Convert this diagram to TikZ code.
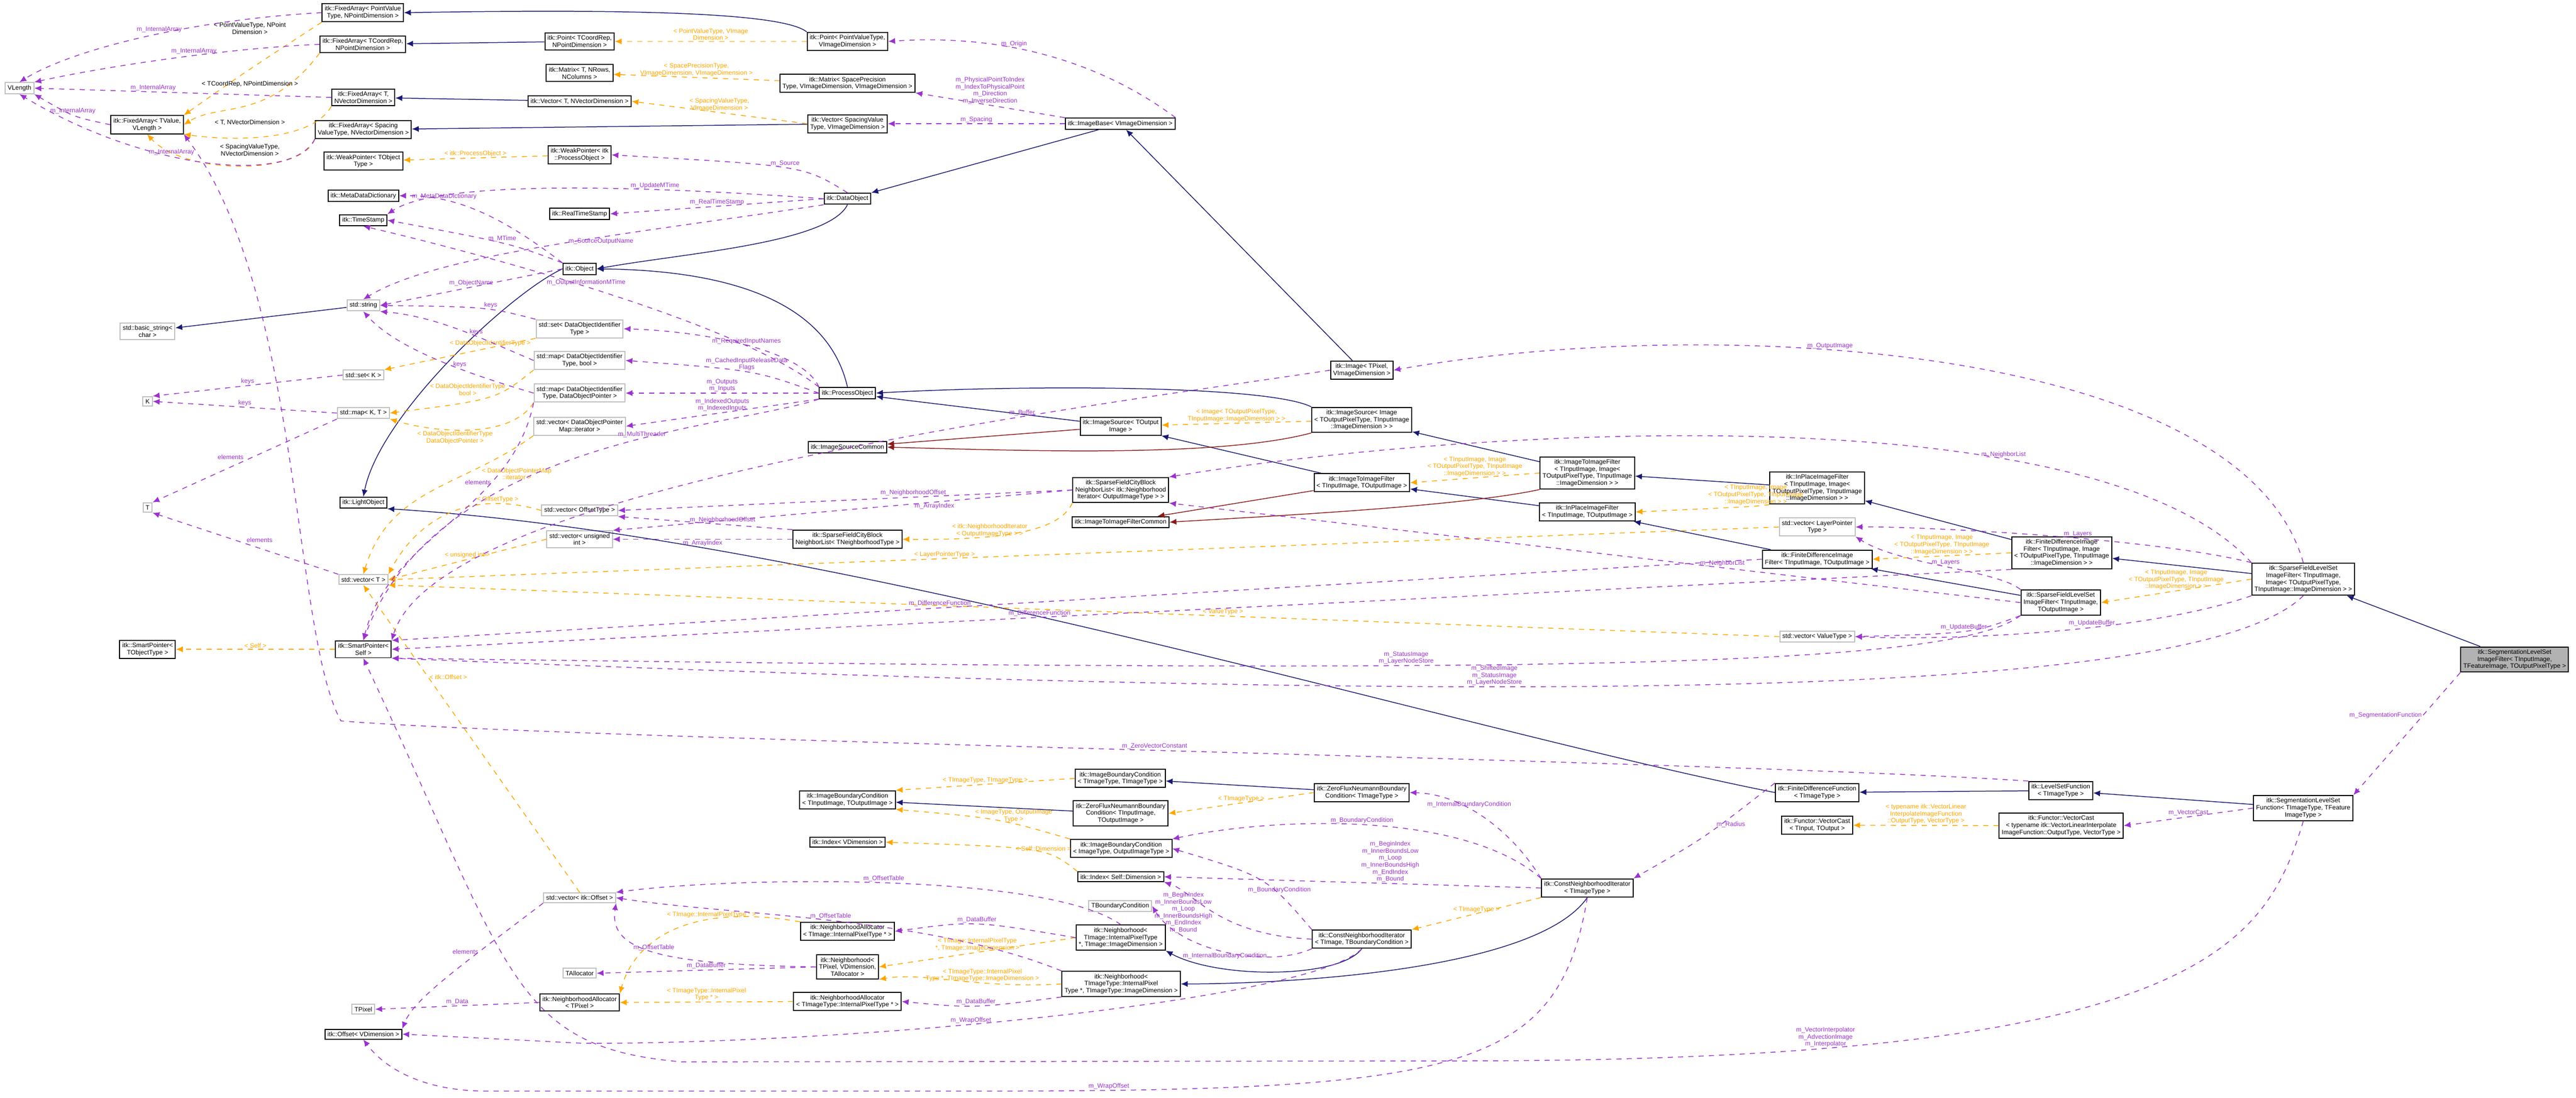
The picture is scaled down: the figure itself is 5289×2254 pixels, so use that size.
\documentclass[tikz,border=0pt]{standalone}
\usepackage{fontspec}
\setmainfont{Liberation Sans}
\usetikzlibrary{arrows.meta}
\begin{document}
\begin{tikzpicture}[x=0.01cm,y=-0.01cm,
 every node/.style={font=\fontsize{3.7}{4.1}\selectfont},
 box/.style={draw,line width=0.6pt,fill=white,align=center,inner sep=1.5pt},
 cls/.style={box,draw=black},
 ext/.style={box,draw=black!25},
 lbl/.style={align=center,inner sep=0.5pt},
 arr/.style={line width=0.45pt,-{Latex[length=4pt,width=3.5pt]}},
 inh/.style={arr,draw=MidnightBlue,color=MidnightBlue},
 pinh/.style={arr,color=Firebrick},
 tmpl/.style={arr,color=Orange,dashed},
 use/.style={arr,color=Purple,dashed}]
\definecolor{MidnightBlue}{HTML}{191970}
\definecolor{Firebrick}{HTML}{8B1A1A}
\definecolor{Orange}{HTML}{FFA500}
\definecolor{Purple}{HTML}{9A32CD}
\useasboundingbox (0,0) rectangle (5289,2254);
% nodes
\node[cls] (faPV) at (745,26) {itk::FixedArray< PointValue\\Type, NPointDimension >};
\node[cls] (faCR) at (745,91) {itk::FixedArray< TCoordRep,\\NPointDimension >};
\node[cls] (ptCR) at (1190,85) {itk::Point< TCoordRep,\\NPointDimension >};
\node[cls] (ptPV) at (1740,85) {itk::Point< PointValueType,\\VImageDimension >};
\node[cls] (mxT) at (1190,150) {itk::Matrix< T, NRows,\\NColumns >};
\node[cls] (mxSP) at (1740,171) {itk::Matrix< SpacePrecision\\Type, VImageDimension, VImageDimension >};
\node[ext] (vlen) at (40,181) {VLength};
\node[cls] (faT) at (746,200) {itk::FixedArray< T,\\NVectorDimension >};
\node[cls] (vecT) at (1190,208) {itk::Vector< T, NVectorDimension >};
\node[cls] (faTV) at (302,256) {itk::FixedArray< TValue,\\VLength >};
\node[cls] (faSV) at (746,266) {itk::FixedArray< Spacing\\ValueType, NVectorDimension >};
\node[cls] (vecSV) at (1740,254) {itk::Vector< SpacingValue\\Type, VImageDimension >};
\node[cls] (imgBase) at (2300,254) {itk::ImageBase< VImageDimension >};
\node[cls] (wpT) at (746,331) {itk::WeakPointer< TObject\\Type >};
\node[cls] (wpPO) at (1190,318) {itk::WeakPointer< itk\\::ProcessObject >};
\node[cls] (mdd) at (746,402) {itk::MetaDataDictionary};
\node[cls] (ts) at (746,452) {itk::TimeStamp};
\node[cls] (rts) at (1190,439) {itk::RealTimeStamp};
\node[cls] (dobj) at (1740,408) {itk::DataObject};
\node[cls] (obj) at (1190,552) {itk::Object};
\node[ext] (str) at (746,627) {std::string};
\node[ext] (bstr) at (303,680) {std::basic\_string<\\char >};
\node[ext] (setDO) at (1190,675) {std::set< DataObjectIdentifier\\Type >};
\node[ext] (mapDOb) at (1190,740) {std::map< DataObjectIdentifier\\Type, bool >};
\node[ext] (setK) at (746,770) {std::set< K >};
\node[cls] (img) at (2796,760) {itk::Image< TPixel,\\VImageDimension >};
\node[cls] (po) at (1740,807) {itk::ProcessObject};
\node[ext] (K) at (303,824) {K};
\node[ext] (mapKT) at (746,848) {std::map< K, T >};
\node[ext] (mapDOP) at (1190,807) {std::map< DataObjectIdentifier\\Type, DataObjectPointer >};
\node[ext] (vecDOI) at (1190,875) {std::vector< DataObjectPointer\\Map::iterator >};
\node[cls] (isc) at (1740,918) {itk::ImageSourceCommon};
\node[cls] (isT) at (2301,875) {itk::ImageSource< TOutput\\Image >};
\node[cls] (isI) at (2796,862) {itk::ImageSource< Image\\< TOutputPixelType, TInputImage\\::ImageDimension > >};
\node[ext] (T) at (303,1042) {T};
\node[cls] (lo) at (746,1032) {itk::LightObject};
\node[ext] (vOff) at (1190,1048) {std::vector< OffsetType >};
\node[cls] (sfNI) at (2301,1006) {itk::SparseFieldCityBlock\\NeighborList< itk::Neighborhood\\Iterator< OutputImageType > >};
\node[cls] (itifc) at (2301,1072) {itk::ImageToImageFilterCommon};
\node[cls] (itiT) at (2796,991) {itk::ImageToImageFilter\\< TInputImage, TOutputImage >};
\node[cls] (itiI) at (3259,971) {itk::ImageToImageFilter\\< TInputImage, Image<\\TOutputPixelType, TInputImage\\::ImageDimension > >};
\node[cls] (ipT) at (3259,1051) {itk::InPlaceImageFilter\\< TInputImage, TOutputImage >};
\node[cls] (ipI) at (3731,1002) {itk::InPlaceImageFilter\\< TInputImage, Image<\\TOutputPixelType, TInputImage\\::ImageDimension > >};
\node[ext] (vUI) at (1190,1107) {std::vector< unsigned\\int >};
\node[cls] (sfTN) at (1740,1107) {itk::SparseFieldCityBlock\\NeighborList< TNeighborhoodType >};
\node[ext] (vT) at (746,1190) {std::vector< T >};
\node[ext] (vLP) at (3731,1082) {std::vector< LayerPointer\\Type >};
\node[cls] (fdT) at (3731,1148) {itk::FiniteDifferenceImage\\Filter< TInputImage, TOutputImage >};
\node[cls] (fdI) at (4233,1135) {itk::FiniteDifferenceImage\\Filter< TInputImage, Image\\< TOutputPixelType, TInputImage\\::ImageDimension > >};
\node[cls] (sflT) at (4231,1237) {itk::SparseFieldLevelSet\\ImageFilter< TInputImage,\\TOutputImage >};
\node[cls] (sflI) at (4729,1189) {itk::SparseFieldLevelSet\\ImageFilter< TInputImage,\\Image< TOutputPixelType,\\TInputImage::ImageDimension > >};
\node[ext] (vVT) at (3731,1307) {std::vector< ValueType >};
\node[cls,fill=black!30] (seg) at (5163,1354) {itk::SegmentationLevelSet\\ImageFilter< TInputImage,\\TFeatureImage, TOutputPixelType >};
\node[cls] (spT) at (303,1333) {itk::SmartPointer<\\TObjectType >};
\node[cls] (spS) at (746,1333) {itk::SmartPointer<\\Self >};
\node[cls] (fdf) at (3731,1627) {itk::FiniteDifferenceFunction\\< TImageType >};
\node[cls] (lsf) at (4231,1623) {itk::LevelSetFunction\\< TImageType >};
\node[cls] (slsf) at (4729,1659) {itk::SegmentationLevelSet\\Function< TImageType, TFeature\\ImageType >};
\node[cls] (vcT) at (3731,1694) {itk::Functor::VectorCast\\< TInput, TOutput >};
\node[cls] (vcI) at (4232,1695) {itk::Functor::VectorCast\\< typename itk::VectorLinearInterpolate\\ImageFunction::OutputType, VectorType >};
\node[cls] (ibcTT) at (2300,1598) {itk::ImageBoundaryCondition\\< TImageType, TImageType >};
\node[cls] (zfT) at (2796,1627) {itk::ZeroFluxNeumannBoundary\\Condition< TImageType >};
\node[cls] (ibcIO) at (1740,1642) {itk::ImageBoundaryCondition\\< TInputImage, TOutputImage >};
\node[cls] (zfIO) at (2301,1670) {itk::ZeroFluxNeumannBoundary\\Condition< TInputImage,\\TOutputImage >};
\node[cls] (idxV) at (1740,1729) {itk::Index< VDimension >};
\node[cls] (ibcIOT) at (2302,1742) {itk::ImageBoundaryCondition\\< ImageType, OutputImageType >};
\node[cls] (idxS) at (2301,1800) {itk::Index< Self::Dimension >};
\node[cls] (cniT) at (3259,1823) {itk::ConstNeighborhoodIterator\\< TImageType >};
\node[ext] (vOf) at (1190,1843) {std::vector< itk::Offset >};
\node[ext] (tbc) at (2300,1860) {TBoundaryCondition};
\node[cls] (naTI) at (1740,1912) {itk::NeighborhoodAllocator\\< TImage::InternalPixelType * >};
\node[cls] (nbTI) at (2301,1925) {itk::Neighborhood<\\TImage::InternalPixelType\\*, TImage::ImageDimension >};
\node[cls] (cniTB) at (2796,1928) {itk::ConstNeighborhoodIterator\\< TImage, TBoundaryCondition >};
\node[cls] (nbP) at (1740,1985) {itk::Neighborhood<\\TPixel, VDimension,\\TAllocator >};
\node[ext] (tall) at (1190,1998) {TAllocator};
\node[cls] (nbTT) at (2302,2020) {itk::Neighborhood<\\TImageType::InternalPixel\\Type *, TImageType::ImageDimension >};
\node[cls] (naTT) at (1740,2056) {itk::NeighborhoodAllocator\\< TImageType::InternalPixelType * >};
\node[cls] (naP) at (1190,2058) {itk::NeighborhoodAllocator\\< TPixel >};
\node[ext] (tpix) at (746,2072) {TPixel};
\node[cls] (off) at (746,2123) {itk::Offset< VDimension >};
% inheritance
\draw[inh] (ptPV.north west) .. controls (1600,20) and (1200,20) .. (faPV.east);
\draw[inh] (ptCR) -- (faCR);
\draw[inh] (vecT) -- (faT);
\draw[inh] (vecSV) -- (faSV);
\draw[inh] (imgBase) -- (dobj.north east);
\draw[inh] (dobj.south) .. controls (1700,500) and (1400,520) .. (obj.east);
\draw[inh] (obj.west) .. controls (1050,600) and (780,850) .. (lo.north);
\draw[inh] (str) -- (bstr);
\draw[inh] (po.north) .. controls (1700,620) and (1500,555) .. (obj.east);
\draw[inh] (img) -- (imgBase);
\draw[inh] (isT) -- (po);
\draw[inh] (isI.north west) .. controls (2600,790) and (2100,790) .. (po.east);
\draw[inh] (itiT) -- (isT);
\draw[inh] (itiI) -- (isI);
\draw[inh] (ipT) -- (itiT);
\draw[inh] (ipI) -- (itiI);
\draw[inh] (fdT) -- (ipT);
\draw[inh] (fdI) -- (ipI);
\draw[inh] (sflT) -- (fdT);
\draw[inh] (sflI) -- (fdI);
\draw[inh] (seg) -- (sflI);
\draw[inh] (fdf.west) .. controls (3000,1500) and (1700,1100) .. (lo.south east);
\draw[inh] (lsf) -- (fdf);
\draw[inh] (slsf) -- (lsf);
\draw[inh] (zfT) -- (ibcTT);
\draw[inh] (zfIO) -- (ibcIO);
\draw[inh] (cniT.south) .. controls (3150,2000) and (2600,2020) .. (nbTT.east);
\draw[inh] (cniTB.south) .. controls (2750,2010) and (2500,2010) .. (nbTI.south east);
\draw[pinh] (isT) -- (isc);
\draw[pinh] (isI.south west) .. controls (2500,940) and (2100,925) .. (isc.east);
\draw[pinh] (itiT) -- (itifc);
\draw[pinh] (itiI.south west) .. controls (3000,1040) and (2600,1060) .. (itifc.east);
% templates
\draw[tmpl] (faPV.south west) .. controls (500,150) .. (faTV.north east);
\node[lbl] (l1) at (513,58) {< PointValueType, NPoint\\Dimension >};
\draw[tmpl] (faCR.south west) .. controls (550,250) and (450,210) .. (faTV.east);
\node[lbl] (l2) at (513,173) {< TCoordRep, NPointDimension >};
\draw[tmpl] (faT.south west) .. controls (640,290) and (480,290) .. (faTV.south east);
\node[lbl] (l3) at (513,252) {< T, NVectorDimension >};
\draw[tmpl] (faSV.south west) .. controls (620,360) and (380,360) .. (faTV.south);
\node[lbl] (l4) at (513,308) {< SpacingValueType,\\NVectorDimension >};
\draw[tmpl] (ptPV) -- node[lbl,above]{< PointValueType, VImage\\Dimension >} (ptCR);
\draw[tmpl] (mxSP) -- node[lbl,above]{< SpacePrecisionType,\\VImageDimension, VImageDimension >} (mxT);
\draw[tmpl] (vecSV.west) -- node[lbl,above]{< SpacingValueType,\\VImageDimension >} (vecT.east);
\draw[tmpl] (wpPO) -- node[lbl,above]{< itk::ProcessObject >} (wpT);
\draw[tmpl] (setDO.south west) -- node[lbl,above,pos=0.3]{< DataObjectIdentifierType >} (setK.north east);
\draw[tmpl] (mapDOb.south west) .. controls (1020,820) .. node[lbl,pos=0.3,left]{< DataObjectIdentifierType\\bool >} (mapKT.east);
\draw[tmpl] (mapDOP.south west) .. controls (1050,900) and (900,890) .. node[lbl,pos=0.6,below]{< DataObjectIdentifierType\\DataObjectPointer >} (mapKT.south east);
\draw[tmpl] (vecDOI.south west) .. controls (950,1000) and (800,1000) .. node[lbl,pos=0.25,below right]{< DataObjectPointerMap\\::iterator >} (vT.north);
\draw[tmpl] (vOff.west) .. controls (950,1000) and (850,1080) .. node[lbl,pos=0.2,above]{< OffsetType >} (vT.north east);
\draw[tmpl] (vUI.west) -- node[lbl,above]{< unsigned int >} (vT.east);
\draw[tmpl] (vLP.west) -- node[lbl,above,pos=0.6]{< LayerPointerType >} (vT.east);
\draw[tmpl] (vVT.west) -- node[lbl,above,pos=0.4]{< ValueType >} (vT.south east);
\draw[tmpl] (vOf.north) -- node[lbl,pos=0.7,right]{< itk::Offset >} (vT.south);
\draw[tmpl] (spS) -- node[lbl,above]{< Self >} (spT);
\draw[tmpl] (sfNI.south west) .. controls (2180,1080) and (2100,1110) .. node[lbl,pos=0.5,left]{< itk::NeighborhoodIterator\\< OutputImageType > >} (sfTN.east);
\draw[tmpl] (isI) -- node[lbl,above]{< Image< TOutputPixelType,\\TInputImage::ImageDimension > >} (isT);
\draw[tmpl] (itiI.west) -- node[lbl,above]{< TInputImage, Image\\< TOutputPixelType, TInputImage\\::ImageDimension > >} (itiT.east);
\draw[tmpl] (ipI.south west) .. controls (3600,1040) .. node[lbl,pos=0.3,above]{< TInputImage, Image\\< TOutputPixelType, TInputImage\\::ImageDimension > >} (ipT.east);
\draw[tmpl] (fdI.west) -- node[lbl,above]{< TInputImage, Image\\< TOutputPixelType, TInputImage\\::ImageDimension > >} (fdT.east);
\draw[tmpl] (sflI.west) -- node[lbl,above]{< TInputImage, Image\\< TOutputPixelType, TInputImage\\::ImageDimension > >} (sflT.east);
\draw[tmpl] (vcI) -- node[lbl,above]{< typename itk::VectorLinear\\InterpolateImageFunction\\::OutputType, VectorType >} (vcT);
\draw[tmpl] (ibcTT.west) -- node[lbl,above]{< TImageType, TImageType >} (ibcIO.north east);
\draw[tmpl] (ibcIOT.north west) .. controls (2050,1680) .. node[lbl,pos=0.35,above]{< ImageType, OutputImage\\Type >} (ibcIO.south east);
\draw[tmpl] (zfT.west) -- node[lbl,above]{< TImageType >} (zfIO.east);
\draw[tmpl] (idxS.north west) .. controls (2150,1740) .. node[lbl,pos=0.4,above]{< Self::Dimension >} (idxV.east);
\draw[tmpl] (cniT.south west) -- node[lbl,above]{< TImageType >} (cniTB.north east);
\draw[tmpl] (nbTI.west) -- node[lbl,above]{< TImage::InternalPixelType\\*, TImage::ImageDimension >} (nbP.east);
\draw[tmpl] (nbTT.west) .. controls (2000,2030) and (1900,1995) .. node[lbl,pos=0.35,above]{< TImageType::InternalPixel\\Type *, TImageType::ImageDimension >} (nbP.south east);
\draw[tmpl] (naTI.north west) .. controls (1400,1850) and (1300,1940) .. node[lbl,pos=0.3,above]{< TImage::InternalPixelType * >} (naP.north east);
\draw[tmpl] (naTT.west) -- node[lbl,above]{< TImageType::InternalPixel\\Type * >} (naP.east);
% usage
\draw[use] (faPV.west) .. controls (400,40) and (150,100) .. node[lbl,pos=0.45,above]{m\_InternalArray} (vlen.north);
\draw[use] (faCR.west) .. controls (450,100) and (200,140) .. node[lbl,pos=0.4,above]{m\_InternalArray} (vlen.north east);
\draw[use] (faT.west) -- node[lbl,above,pos=0.6]{m\_InternalArray} (vlen.east);
\draw[use] (faTV.west) .. controls (150,240) .. node[lbl,pos=0.5,above]{m\_InternalArray} (vlen.south east);
\draw[use] (faSV.south west) .. controls (600,380) and (300,350) .. node[lbl,pos=0.6,above]{m\_InternalArray} (vlen.south);
\draw[use] (imgBase.north east) .. controls (2250,120) and (2050,70) .. node[lbl,pos=0.6,above]{m\_Origin} (ptPV.east);
\draw[use] (imgBase.north west) -- node[lbl,above,pos=0.5]{m\_PhysicalPointToIndex\\m\_IndexToPhysicalPoint\\m\_Direction\\m\_InverseDirection} (mxSP.south east);
\draw[use] (imgBase.west) -- node[lbl,above]{m\_Spacing} (vecSV.east);
\draw[use] (dobj.north) .. controls (1650,340) .. node[lbl,pos=0.5,above]{m\_Source} (wpPO.east);
\draw[use] (dobj.west) .. controls (1300,380) and (900,370) .. node[lbl,pos=0.3,above]{m\_UpdateMTime} (ts.north east);
\draw[use] (dobj.west) -- node[lbl,above]{m\_RealTimeStamp} (rts.east);
\draw[use] (dobj.south west) .. controls (1300,480) and (900,520) .. node[lbl,pos=0.4,below]{m\_SourceOutputName} (str.north);
\draw[use] (obj.north west) .. controls (1050,460) and (950,400) .. node[lbl,pos=0.75,above]{m\_MetaDataDictionary} (mdd.east);
\draw[use] (obj.north west) .. controls (1050,500) .. node[lbl,pos=0.5,above]{m\_MTime} (ts.east);
\draw[use] (obj.west) -- node[lbl,above]{m\_ObjectName} (str.east);
\draw[use] (po.north west) .. controls (1500,650) and (900,500) .. node[lbl,pos=0.5,above]{m\_OutputInformationMTime} (ts.south);
\draw[use] (po.north west) .. controls (1650,720) and (1450,680) .. node[lbl,pos=0.5,above]{m\_RequiredInputNames} (setDO.east);
\draw[use] (po.west) .. controls (1550,760) .. node[lbl,pos=0.5,above]{m\_CachedInputReleaseData\\Flags} (mapDOb.east);
\draw[use] (po.west) -- node[lbl,above]{m\_Outputs\\m\_Inputs} (mapDOP.east);
\draw[use] (po.south west) -- node[lbl,above]{m\_IndexedOutputs\\m\_IndexedInputs} (vecDOI.east);
\draw[use] (po.south west) .. controls (1500,880) and (900,900) .. node[lbl,pos=0.4,above]{m\_MultiThreader} (spS.north);
\draw[use] (setDO.north west) .. controls (1000,630) .. node[lbl,pos=0.4,above]{keys} (str.east);
\draw[use] (mapDOb.west) .. controls (1000,700) and (900,650) .. node[lbl,pos=0.4,above]{keys} (str.south east);
\draw[use] (mapDOP.west) .. controls (900,750) and (800,700) .. node[lbl,pos=0.3,above]{keys} (str.south);
\draw[use] (setK.west) -- node[lbl,above]{keys} (K.north east);
\draw[use] (mapKT.west) -- node[lbl,above]{keys} (K.east);
\draw[use] (mapKT.south west) -- node[lbl,above left]{elements} (T.north east);
\draw[use] (vT.north west) -- node[lbl,above right]{elements} (T.south east);
\draw[use] (mapDOP.south west) .. controls (1050,1050) and (800,1100) .. node[lbl,pos=0.3,left]{elements} (spS.north);
\draw[use] (img.west) .. controls (2200,840) and (900,1000) .. node[lbl,pos=0.3,above]{m\_Buffer} (spS.north east);
\draw[use] (sflI.north) .. controls (4600,700) and (3500,646) .. node[lbl,pos=0.6,above]{m\_OutputImage} (img.east);
\draw[use] (sfNI.west) -- node[lbl,above,pos=0.35]{m\_NeighborhoodOffset} (vOff.east);
\draw[use] (sfNI.west) -- node[lbl,below,pos=0.3]{m\_ArrayIndex} (vUI.north east);
\draw[use] (sfTN.north west) -- node[lbl,above,pos=0.4]{m\_NeighborhoodOffset} (vOff.south east);
\draw[use] (sfTN.west) -- node[lbl,below]{m\_ArrayIndex} (vUI.east);
\draw[use] (sflI.north west) .. controls (4300,800) and (3000,880) .. node[lbl,pos=0.3,above]{m\_NeighborList} (sfNI.north east);
\draw[use] (sflT.west) -- node[lbl,above,pos=0.35]{m\_NeighborList} (sfNI.south east);
\draw[use] (sflI.north west) .. controls (4400,1100) and (3900,1080) .. node[lbl,pos=0.4,above]{m\_Layers} (vLP.east);
\draw[use] (sflT.north west) .. controls (4100,1170) and (3900,1160) .. node[lbl,pos=0.5,above]{m\_Layers} (vLP.south east);
\draw[use] (sflI.south west) .. controls (4400,1300) and (4000,1315) .. node[lbl,pos=0.4,above]{m\_UpdateBuffer} (vVT.east);
\draw[use] (sflT.south west) .. controls (4050,1300) .. node[lbl,pos=0.5,above]{m\_UpdateBuffer} (vVT.east);
\draw[use] (fdT.west) -- node[lbl,above,pos=0.6]{m\_DifferenceFunction} (spS.north east);
\draw[use] (fdI.south west) -- node[lbl,above,pos=0.6]{m\_DifferenceFunction} (spS.east);
\draw[use] (sflT.south west) .. controls (4000,1380) and (3000,1380) .. node[lbl,pos=0.6,above]{m\_StatusImage\\m\_LayerNodeStore} (spS.south east);
\draw[use] (sflI.south) .. controls (4500,1450) and (3000,1440) .. node[lbl,pos=0.6,above]{m\_ShiftedImage\\m\_StatusImage\\m\_LayerNodeStore} (spS.south east);
\draw[use] (lsf.north west) .. controls (3500,1560) and (1200,1520) .. node[lbl,pos=0.5,above]{m\_ZeroVectorConstant} (700,1480) .. controls (600,1300) and (620,600) .. (faTV.south east);
\draw[use] (seg.south west) -- node[lbl,pos=0.35,left]{m\_SegmentationFunction} (slsf.north east);
\draw[use] (slsf.west) -- node[lbl,above]{m\_VectorCast} (vcI.east);
\draw[use] (slsf.south) .. controls (4650,1950) and (4500,2178) .. node[lbl,pos=0.8,above]{m\_VectorInterpolator\\m\_AdvectionImage\\m\_Interpolator} (3000,2178) -- (1400,2180) .. controls (1050,2150) and (1050,2000) .. (spS.south);
\draw[use] (fdf.north west) .. controls (3500,1720) .. node[lbl,pos=0.4,above right]{m\_Radius} (cniT.north east);
\draw[use] (cniT.north west) .. controls (3100,1700) and (3000,1630) .. node[lbl,pos=0.6,above]{m\_InternalBoundaryCondition} (zfT.east);
\draw[use] (cniT.north west) .. controls (3000,1660) and (2600,1680) .. node[lbl,pos=0.5,above]{m\_BoundaryCondition} (ibcIOT.north east);
\draw[use] (cniT.west) -- node[lbl,above,pos=0.4]{m\_BeginIndex\\m\_InnerBoundsLow\\m\_Loop\\m\_InnerBoundsHigh\\m\_EndIndex\\m\_Bound} (idxS.east);
\draw[use] (cniTB.north west) .. controls (2600,1800) .. node[lbl,pos=0.3,above]{m\_BoundaryCondition} (ibcIOT.east);
\draw[use] (cniTB.west) .. controls (2500,1920) and (2450,1830) .. node[lbl,pos=0.5,left]{m\_BeginIndex\\m\_InnerBoundsLow\\m\_Loop\\m\_InnerBoundsHigh\\m\_EndIndex\\m\_Bound} (idxS.south east);
\draw[use] (cniTB.south west) .. controls (2600,1990) and (2420,1950) .. node[lbl,pos=0.5,below]{m\_InternalBoundaryCondition} (tbc.east);
\draw[use] (nbTI.north) .. controls (2150,1790) and (1500,1800) .. node[lbl,pos=0.5,above]{m\_OffsetTable} (vOf.north east);
\draw[use] (nbTI.west) .. controls (2000,1890) .. node[lbl,pos=0.5,above]{m\_DataBuffer} (naTI.east);
\draw[use] (nbTT.north west) .. controls (1900,1880) and (1500,1880) .. node[lbl,pos=0.5,above]{m\_OffsetTable} (vOf.east);
\draw[use] (nbTT.south west) .. controls (2000,2070) .. node[lbl,pos=0.5,above]{m\_DataBuffer} (naTT.east);
\draw[use] (nbP.west) .. controls (1350,1980) and (1250,1950) .. node[lbl,pos=0.5,above]{m\_OffsetTable} (vOf.south east);
\draw[use] (nbP.west) -- node[lbl,above]{m\_DataBuffer} (tall.east);
\draw[use] (naP.west) -- node[lbl,above]{m\_Data} (tpix.east);
\draw[use] (vOf.south west) .. controls (950,1980) and (850,2050) .. node[lbl,pos=0.3,left]{elements} (off.north east);
\draw[use] (cniTB.south) .. controls (2700,2050) and (1800,2142) .. node[lbl,pos=0.6,above]{m\_WrapOffset} (1200,2142) -- (off.east);
\draw[use] (cniT.south) .. controls (3200,2200) and (3000,2240) .. node[lbl,pos=0.9,above]{m\_WrapOffset} (2000,2240) -- (1000,2240) .. controls (850,2240) and (780,2180) .. (off.south);
\end{tikzpicture}
\end{document}
